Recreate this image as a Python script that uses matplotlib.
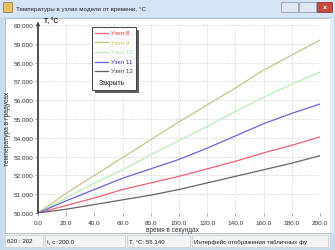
import matplotlib
matplotlib.use('Agg')
from matplotlib import pyplot as plt
from matplotlib.patches import Rectangle
from matplotlib.lines import Line2D

W, H = 335, 251

t = [0, 20, 40, 60, 80, 100, 120, 140, 160, 180, 200]
uzel8 = [50.0, 50.4, 50.8, 51.25, 51.6, 51.95, 52.35, 52.75, 53.2, 53.6, 54.05]
uzel9 = [50.0, 51.05, 52.0, 52.95, 53.9, 54.85, 55.75, 56.65, 57.6, 58.4, 59.2]
uzel10 = [50.0, 50.8, 51.6, 52.3, 53.1, 53.85, 54.6, 55.4, 56.15, 56.85, 57.5]
uzel11 = [50.0, 50.65, 51.25, 51.85, 52.35, 52.85, 53.45, 54.1, 54.75, 55.3, 55.8]
uzel12 = [50.0, 50.2, 50.45, 50.7, 50.95, 51.25, 51.6, 51.95, 52.3, 52.65, 53.05]

names = ['Узел 8', 'Узел 9', 'Узел 10', 'Узел 11', 'Узел 12']
series = [uzel8, uzel9, uzel10, uzel11, uzel12]
line_colors = ['#f06070', '#c4c486', '#b4f0b4', '#6464dc', '#646464']
text_colors = ['#f03838', '#c8c860', '#a8eca8', '#3434c4', '#404040']

status = ['620 : 202', 't, c: 200.0', 'T, °C: 55.140', 'Интерфейс отображения табличных фу']


def px(x, y):
    return x / W, 1 - y / H


def rect(x0, y0, x1, y1, **kw):
    fig.patches.append(Rectangle(px(x0, y1), (x1 - x0) / W, (y1 - y0) / H,
                                 transform=fig.transFigure, figure=fig, **kw))


plt.rcParams['font.family'] = ['Liberation Sans', 'DejaVu Sans']
fig = plt.figure(figsize=(W / 100, H / 100), dpi=100)
fig.patch.set_facecolor('#c8dbef')

# title bar
rect(0, 0, W, 18, facecolor='#d6e5f5', edgecolor='none')
rect(3, 3, 12, 13, facecolor='#e8c060', edgecolor='#8a7040', lw=0.5)
fig.text(*px(16, 9), 'Температуры в узлах модели от времени, °C', fontsize=4.5,
         va='center', ha='left', color='#202020')
rect(281, 3, 298, 13, facecolor='#dfe8f2', edgecolor='#7f8fa8', lw=0.5)
rect(299, 3, 316, 13, facecolor='#dfe8f2', edgecolor='#7f8fa8', lw=0.5)
rect(317, 3, 332, 13, facecolor='#c9473d', edgecolor='#7a2a20', lw=0.5)
fig.text(*px(324.5, 8), '×', fontsize=5, color='white', ha='center', va='center', weight='bold')

# client area
rect(5, 19, 330, 234, facecolor='white', edgecolor='#a0b0c0', lw=0.5)
rect(330, 19, 334, 234, facecolor='#e4ebf3', edgecolor='none')

# status bar
rect(5, 235, 330, 249, facecolor='#f0f0f0', edgecolor='none')
fields = [(5, 43), (45, 125), (127, 190), (192, 328)]
for (a, b), s in zip(fields, status):
    rect(a, 236, b, 248, facecolor='#f4f4f4', edgecolor='#c8c8c8', lw=0.5)
    fig.text(*px(a + 2, 242), s, fontsize=4.4, va='center', ha='left', color='#202020')

ax = fig.add_axes([38 / W, 1 - 214 / H, (320 - 38) / W, (214 - 26) / H])
ax.set_zorder(3)
ax.patch.set_alpha(0)
for name, vals, c in zip(names, series, line_colors):
    ax.plot(t, vals, color=c, lw=0.9, label=name)

ax.set_xlim(0, 200)
ax.set_ylim(50, 60)
ax.set_xticks(range(0, 201, 20))
ax.set_yticks(range(50, 61))
ax.set_xticklabels(['%.1f' % v for v in range(0, 201, 20)])
ax.set_yticklabels(['%.3f' % v for v in range(50, 61)])
ax.tick_params(labelsize=4.6, length=2, width=0.5, color='#808080', pad=1.5, labelcolor='#303030')
ax.tick_params(axis='x', pad=3)
ax.grid(True, color='#c4c4c4', lw=0.6, linestyle=(0, (1, 1.5)))
for s in ['top', 'right', 'bottom']:
    ax.spines[s].set_visible(False)
ax.spines['left'].set_color('#505050')
ax.spines['left'].set_linewidth(1.4)

fig.text(*px(173, 231), 'время в секундах', fontsize=4.7, va='center', ha='center',
         color='#303030', zorder=4)
fig.text(*px(7.5, 129), 'температура в градусах', fontsize=4.8, rotation=90,
         va='center', ha='center', color='#303030', zorder=4)
ax.annotate('', xy=(38 / W, 1 - 20 / H), xytext=(38 / W, 1 - 28 / H),
            xycoords='figure fraction', annotation_clip=False,
            arrowprops=dict(arrowstyle='-|>', color='#404040', lw=0.8, mutation_scale=5))
fig.text(*px(44, 22), 'T, °C', fontsize=4.7, va='center', ha='left', weight='bold',
         color='#202020', zorder=4)

# legend panel
rect(95, 31, 139, 94, facecolor='#606060', edgecolor='none', zorder=5)
rect(92, 28, 136, 91, facecolor='#fbfbfb', edgecolor='#404040', lw=0.7, zorder=6)
rows = [33.5, 43.3, 53, 62.5, 72]
for y, name, lc, tc in zip(rows, names, line_colors, text_colors):
    fig.lines.append(Line2D([95 / W, 108 / W], [1 - y / H] * 2, color=lc, lw=0.9,
                            transform=fig.transFigure, zorder=7))
    fig.text(*px(111, y), name, fontsize=4.5, color=tc, va='center', ha='left', zorder=7)
fig.text(*px(99, 83.5), 'Закрыть', fontsize=4.9, color='#202020', va='center', ha='left', zorder=7)

fig.savefig('out.png', dpi=100)
